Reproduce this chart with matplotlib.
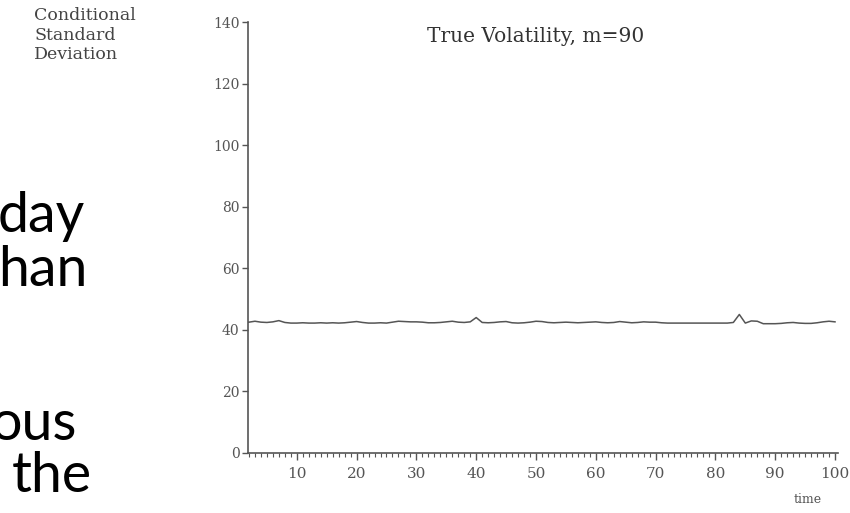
import numpy as np
import matplotlib
matplotlib.use('Agg')
import matplotlib.pyplot as plt
from matplotlib.ticker import MultipleLocator

# Data
time = np.arange(1, 101)
vol = [42.4, 42.5, 42.8, 42.5, 42.4, 42.6, 43.0, 42.4, 42.2, 42.2,
       42.3, 42.2, 42.2, 42.3, 42.2, 42.3, 42.2, 42.3, 42.5, 42.7,
       42.4, 42.2, 42.2, 42.3, 42.2, 42.5, 42.8, 42.7, 42.6, 42.6,
       42.5, 42.3, 42.3, 42.4, 42.6, 42.8, 42.5, 42.4, 42.6, 44.0,
       42.4, 42.3, 42.4, 42.6, 42.7, 42.3, 42.2, 42.3, 42.5, 42.8,
       42.7, 42.4, 42.3, 42.4, 42.5, 42.4, 42.3, 42.4, 42.5, 42.6,
       42.4, 42.3, 42.4, 42.7, 42.5, 42.3, 42.4, 42.6, 42.5, 42.5,
       42.3, 42.2, 42.2, 42.2, 42.2, 42.2, 42.2, 42.2, 42.2, 42.2,
       42.2, 42.2, 42.4, 45.0, 42.2, 42.9, 42.8, 42.0, 42.0, 42.0,
       42.1, 42.3, 42.4, 42.2, 42.1, 42.1, 42.3, 42.6, 42.8, 42.6]
yticks = [0, 20, 40, 60, 80, 100, 120, 140]
xticks = [10, 20, 30, 40, 50, 60, 70, 80, 90, 100]
slide_words = ['day', 'han', 'ous', 'the']

W, H = 850, 513
fig = plt.figure(figsize=(W / 100, H / 100), dpi=100)
fig.patch.set_facecolor('white')

# Axes box placed in pixel terms
ax = fig.add_axes([248 / W, 60 / H, (838 - 248) / W, (453 - 22) / H])
ax.plot(time, vol, color='#555555', linewidth=1.1)
ax.set_xlim(1.84, 100.5)
ax.set_ylim(0, 140)

grey = '#555555'
for side in ['top', 'right']:
    ax.spines[side].set_visible(False)
for side in ['left', 'bottom']:
    ax.spines[side].set_color(grey)
    ax.spines[side].set_linewidth(1.2)

serif = 'DejaVu Serif'
ax.set_yticks(yticks)
ax.set_xticks(xticks)
ax.xaxis.set_minor_locator(MultipleLocator(1))
ax.tick_params(axis='y', direction='out', length=4, width=1, color=grey,
               labelsize=10, labelcolor='#555555', pad=2)
ax.tick_params(axis='x', which='major', direction='out', length=5, width=1,
               color=grey, labelsize=11, labelcolor='#555555', pad=5)
ax.tick_params(axis='x', which='minor', direction='out', length=3, width=0.8,
               color=grey)
for lab in ax.get_xticklabels() + ax.get_yticklabels():
    lab.set_fontfamily(serif)

# Title and axis captions
fig.text(427 / W, 1 - 42 / H, 'True Volatility, m=90', fontsize=14.5,
         family=serif, color='#333333', ha='left', va='baseline')
fig.text(34 / W, 1 - 7 / H, 'Conditional\nStandard\nDeviation', fontsize=12.5,
         family=serif, color='#444444', ha='left', va='top', linespacing=1.2)
fig.text(808 / W, 1 - 503 / H, 'time', fontsize=9, family=serif,
         color='#555555', ha='center', va='baseline')

# Clipped words from the slide behind the chart
word_pos = [(85, 232), (88, 286), (77, 440), (92, 492)]
for w, (px, py) in zip(slide_words, word_pos):
    fig.text(px / W, 1 - py / H, w, fontsize=40, family='Lato',
             color='black', ha='right', va='baseline')

plt.savefig('out.png', dpi=100)
